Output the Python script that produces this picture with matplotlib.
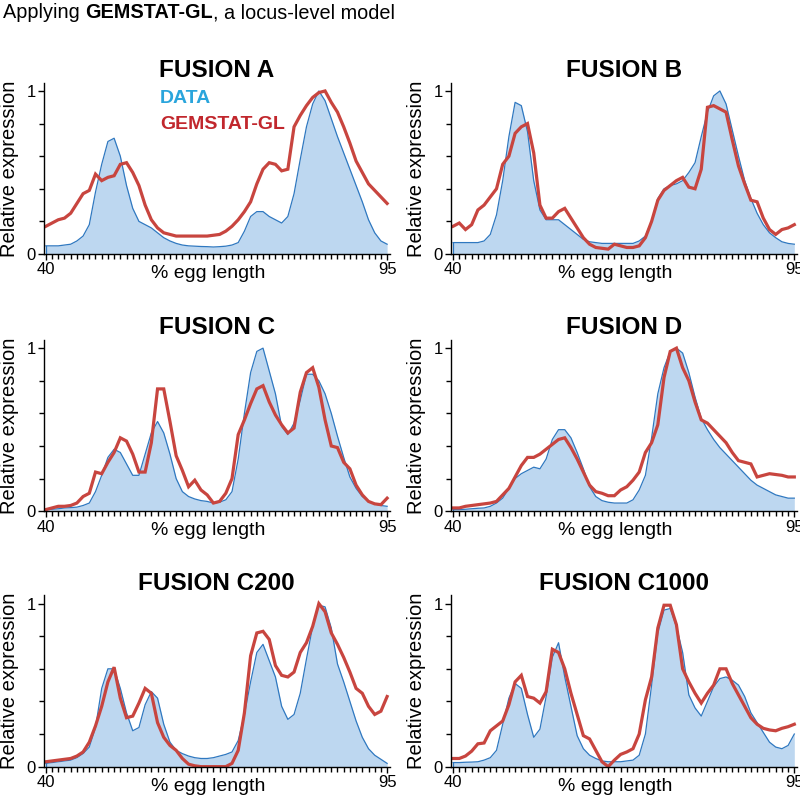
import numpy as np
import matplotlib
matplotlib.use("Agg")
import matplotlib.pyplot as plt
from matplotlib.ticker import MultipleLocator, FixedLocator

plt.rcParams['font.family'] = ['Liberation Sans', 'DejaVu Sans']

# % egg length, sampled every 1%
x = np.arange(40, 96)

titles = ['FUSION A', 'FUSION B', 'FUSION C', 'FUSION D', 'FUSION C200', 'FUSION C1000']

data_a = [0.05, 0.05, 0.05, 0.055, 0.06, 0.08, 0.11, 0.18, 0.38, 0.55, 0.69, 0.71, 0.60, 0.42,
          0.28, 0.20, 0.18, 0.16, 0.13, 0.10, 0.08, 0.065, 0.055, 0.05, 0.048, 0.046, 0.045,
          0.043, 0.045, 0.048, 0.055, 0.07, 0.14, 0.23, 0.26, 0.26, 0.23, 0.21, 0.19, 0.23,
          0.37, 0.58, 0.78, 0.92, 1.0, 0.94, 0.83, 0.72, 0.62, 0.52, 0.42, 0.32, 0.21, 0.13,
          0.08, 0.06]
model_a = [0.17, 0.19, 0.21, 0.22, 0.25, 0.31, 0.37, 0.39, 0.49, 0.45, 0.47, 0.48, 0.55, 0.56,
           0.50, 0.42, 0.30, 0.21, 0.16, 0.13, 0.12, 0.11, 0.11, 0.11, 0.11, 0.11, 0.11, 0.115,
           0.12, 0.14, 0.17, 0.21, 0.26, 0.32, 0.43, 0.52, 0.56, 0.55, 0.51, 0.52, 0.78, 0.85,
           0.91, 0.96, 0.99, 1.0, 0.93, 0.87, 0.78, 0.68, 0.57, 0.50, 0.43, 0.39, 0.35, 0.31]

data_b = [0.07, 0.07, 0.07, 0.07, 0.07, 0.08, 0.12, 0.24, 0.45, 0.72, 0.93, 0.91, 0.75, 0.45,
          0.27, 0.21, 0.21, 0.21, 0.18, 0.15, 0.12, 0.09, 0.075, 0.07, 0.065, 0.065, 0.065,
          0.065, 0.065, 0.065, 0.08, 0.11, 0.20, 0.34, 0.40, 0.42, 0.43, 0.45, 0.50, 0.56,
          0.72, 0.87, 0.97, 1.0, 0.92, 0.76, 0.60, 0.45, 0.34, 0.25, 0.18, 0.13, 0.10, 0.075,
          0.065, 0.06]
model_b = [0.17, 0.19, 0.15, 0.18, 0.27, 0.30, 0.35, 0.40, 0.55, 0.60, 0.74, 0.78, 0.80, 0.62,
           0.30, 0.22, 0.22, 0.26, 0.28, 0.22, 0.16, 0.10, 0.06, 0.04, 0.035, 0.03, 0.06, 0.05,
           0.04, 0.04, 0.05, 0.10, 0.20, 0.33, 0.39, 0.42, 0.45, 0.47, 0.41, 0.40, 0.52, 0.90,
           0.91, 0.89, 0.87, 0.70, 0.54, 0.43, 0.33, 0.32, 0.22, 0.15, 0.12, 0.15, 0.16, 0.18]

data_c = [0.01, 0.012, 0.015, 0.02, 0.022, 0.025, 0.035, 0.05, 0.12, 0.22, 0.33, 0.38, 0.36,
          0.29, 0.22, 0.22, 0.35, 0.48, 0.55, 0.48, 0.35, 0.20, 0.12, 0.09, 0.075, 0.065, 0.06,
          0.05, 0.055, 0.07, 0.12, 0.32, 0.60, 0.85, 0.98, 1.0, 0.86, 0.72, 0.52, 0.47, 0.54,
          0.68, 0.84, 0.84, 0.80, 0.72, 0.60, 0.46, 0.33, 0.21, 0.14, 0.09, 0.06, 0.045, 0.035,
          0.03]
model_c = [0.01, 0.02, 0.03, 0.03, 0.035, 0.05, 0.09, 0.11, 0.24, 0.23, 0.30, 0.36, 0.45, 0.43,
           0.35, 0.24, 0.24, 0.42, 0.75, 0.75, 0.55, 0.34, 0.25, 0.15, 0.19, 0.13, 0.10, 0.05,
           0.06, 0.11, 0.20, 0.47, 0.56, 0.66, 0.75, 0.77, 0.67, 0.59, 0.53, 0.48, 0.51, 0.73,
           0.85, 0.88, 0.76, 0.56, 0.40, 0.39, 0.30, 0.26, 0.16, 0.10, 0.06, 0.045, 0.04, 0.08]

data_d = [0.01, 0.01, 0.012, 0.015, 0.018, 0.02, 0.03, 0.05, 0.08, 0.14, 0.20, 0.23, 0.25,
          0.27, 0.26, 0.32, 0.44, 0.50, 0.50, 0.45, 0.36, 0.26, 0.15, 0.09, 0.065, 0.055, 0.05,
          0.05, 0.05, 0.07, 0.13, 0.22, 0.45, 0.72, 0.88, 0.98, 1.0, 0.97, 0.85, 0.70, 0.57,
          0.50, 0.44, 0.39, 0.35, 0.31, 0.27, 0.23, 0.19, 0.16, 0.14, 0.12, 0.10, 0.09, 0.08,
          0.08]
model_d = [0.02, 0.02, 0.03, 0.035, 0.04, 0.045, 0.05, 0.06, 0.10, 0.14, 0.21, 0.28, 0.33, 0.33,
           0.35, 0.38, 0.41, 0.44, 0.45, 0.39, 0.32, 0.24, 0.16, 0.12, 0.11, 0.095, 0.095, 0.13,
           0.15, 0.19, 0.24, 0.36, 0.42, 0.53, 0.82, 0.98, 1.0, 0.88, 0.80, 0.67, 0.56, 0.54,
           0.50, 0.46, 0.42, 0.36, 0.31, 0.30, 0.29, 0.21, 0.22, 0.23, 0.225, 0.22, 0.21, 0.21]

data_c200 = [0.02, 0.025, 0.03, 0.035, 0.04, 0.055, 0.08, 0.12, 0.24, 0.48, 0.60, 0.60, 0.48,
             0.33, 0.22, 0.24, 0.38, 0.46, 0.42, 0.26, 0.15, 0.10, 0.08, 0.065, 0.055, 0.05,
             0.05, 0.055, 0.065, 0.075, 0.09, 0.16, 0.32, 0.52, 0.70, 0.75, 0.65, 0.55, 0.37,
             0.29, 0.32, 0.45, 0.66, 0.86, 0.99, 0.98, 0.85, 0.63, 0.52, 0.40, 0.28, 0.18, 0.11,
             0.07, 0.045, 0.02]
model_c200 = [0.03, 0.035, 0.04, 0.045, 0.05, 0.065, 0.09, 0.15, 0.25, 0.37, 0.52, 0.61, 0.42,
              0.30, 0.31, 0.39, 0.48, 0.45, 0.27, 0.18, 0.13, 0.10, 0.05, 0.015, 0.005, 0.0, 0.0,
              0.0, 0.0, 0.0, 0.02, 0.10, 0.33, 0.68, 0.82, 0.83, 0.78, 0.62, 0.56, 0.55, 0.58,
              0.70, 0.76, 0.86, 1.0, 0.95, 0.82, 0.75, 0.67, 0.58, 0.48, 0.45, 0.37, 0.32, 0.34,
              0.43]

data_c1000 = [0.025, 0.025, 0.027, 0.028, 0.03, 0.04, 0.055, 0.10, 0.26, 0.42, 0.51, 0.48, 0.32,
              0.18, 0.23, 0.43, 0.67, 0.76, 0.55, 0.37, 0.19, 0.11, 0.07, 0.05, 0.035, 0.03,
              0.03, 0.03, 0.035, 0.04, 0.07, 0.20, 0.50, 0.82, 0.96, 0.97, 0.86, 0.70, 0.44,
              0.36, 0.31, 0.40, 0.49, 0.54, 0.55, 0.53, 0.50, 0.43, 0.33, 0.27, 0.21, 0.15, 0.12,
              0.11, 0.13, 0.20]
model_c1000 = [0.05, 0.05, 0.065, 0.095, 0.14, 0.145, 0.22, 0.25, 0.28, 0.38, 0.52, 0.56, 0.43,
               0.42, 0.39, 0.46, 0.72, 0.70, 0.60, 0.45, 0.32, 0.19, 0.17, 0.10, 0.03, 0.0, 0.04,
               0.075, 0.09, 0.11, 0.20, 0.41, 0.55, 0.85, 0.99, 0.99, 0.87, 0.60, 0.52, 0.45,
               0.39, 0.45, 0.50, 0.60, 0.60, 0.51, 0.44, 0.37, 0.30, 0.26, 0.235, 0.225, 0.22,
               0.235, 0.245, 0.26]

data_all = [data_a, data_b, data_c, data_d, data_c200, data_c1000]
model_all = [model_a, model_b, model_c, model_d, model_c200, model_c1000]

fill_col = '#bdd7f0'
edge_col = '#2f78c0'
red_col = '#c8453f'

fig = plt.figure(figsize=(8, 8), dpi=100)

lefts = [0.055, 0.564]
bottoms = [0.6825, 0.361, 0.0417]
w, h = 0.432, 0.214

for i in range(6):
    r, c = i // 2, i % 2
    ax = fig.add_axes([lefts[c], bottoms[r], w, h])
    ax.fill_between(x, 0, data_all[i], color=fill_col, lw=0)
    ax.plot(x, data_all[i], color=edge_col, lw=0.9)
    ax.plot([40, 40], [0, data_all[i][0]], color=edge_col, lw=0.9)
    ax.plot(x, model_all[i], color=red_col, lw=2.3, solid_joinstyle='miter')

    ax.set_xlim(39.7, 95.4)
    ax.set_ylim(0, 1.05)
    ax.spines['top'].set_visible(False)
    ax.spines['right'].set_visible(False)
    ax.spines['left'].set_linewidth(1.0)
    ax.spines['bottom'].set_linewidth(1.0)

    ax.xaxis.set_major_locator(FixedLocator([40, 95]))
    ax.xaxis.set_minor_locator(MultipleLocator(1))
    ax.yaxis.set_major_locator(FixedLocator([0, 1]))
    ax.yaxis.set_minor_locator(FixedLocator([0.2, 0.4, 0.6, 0.8]))
    ax.set_yticklabels(['0', '1'])
    ax.tick_params(which='both', direction='out', width=1.0, labelsize=12, pad=2)
    ax.tick_params(which='major', length=4)
    ax.tick_params(which='minor', length=3.5)

    ax.set_xlabel('% egg length', fontsize=14)
    ax.xaxis.set_label_coords(0.475, -0.064)
    ax.set_ylabel('Relative expression', fontsize=14.5)
    ax.yaxis.set_label_coords(-0.072, 0.5)
    ax.set_title(titles[i], fontsize=17.5, fontweight='bold', pad=4)

    if i == 0:
        ax.text(0.336, 0.909, 'DATA', transform=ax.transAxes, color='#2aa5dc',
                fontsize=14, fontweight='bold', va='center', ha='left')
        ax.text(0.336, 0.754, 'GEMSTAT-GL', transform=ax.transAxes, color='#c1272d',
                fontsize=14, fontweight='bold', va='center', ha='left')

# header with a bold part
fig.canvas.draw()
rend = fig.canvas.get_renderer()
t1 = fig.text(0.004, 0.984, 'Applying ', fontsize=14.3, va='center', ha='left')
bb = t1.get_window_extent(rend)
x2 = bb.x1 / fig.bbox.width
t2 = fig.text(x2, 0.984, 'GEMSTAT-GL', fontsize=14.3, fontweight='bold', va='center', ha='left')
bb2 = t2.get_window_extent(rend)
x3 = bb2.x1 / fig.bbox.width
fig.text(x3, 0.984, ', a locus-level model', fontsize=14.3, va='center', ha='left')

fig.savefig('out.png', dpi=100)
